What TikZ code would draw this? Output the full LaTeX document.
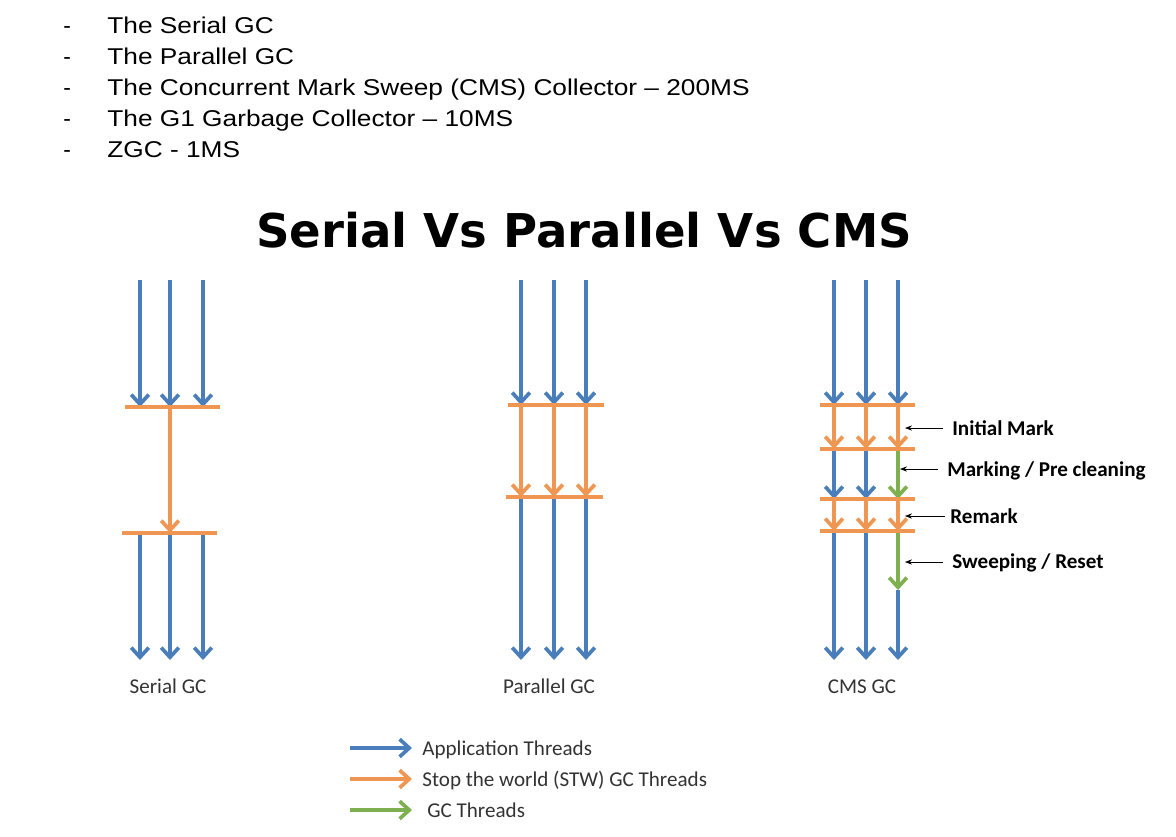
\documentclass[tikz,border=0pt]{standalone}
\usepackage{fontspec}
\setmainfont{Liberation Sans}
\newfontfamily\calfont{Carlito}
\newfontfamily\titlefont{DejaVu Sans}
\usetikzlibrary{arrows.meta}

\definecolor{appblue}{HTML}{4A7EBB}
\definecolor{stworange}{HTML}{EE9652}
\definecolor{gcgreen}{HTML}{7FB04F}

\begin{document}
\begin{tikzpicture}[x=0.02cm,y=-0.02cm,
    >={Straight Barb[length=5.5pt,width=10pt]},
    thread/.style={->,line width=2.1pt},
    app/.style={thread,draw=appblue},
    stw/.style={thread,draw=stworange},
    gct/.style={thread,draw=gcgreen},
    bar/.style={draw=stworange,line width=2.1pt},
    note/.style={-{Stealth[length=4pt,width=3pt]},thin,black},
    item/.style={anchor=base west,inner sep=0pt,font=\fontsize{13}{15}\selectfont},
    gc label/.style={anchor=base,inner sep=0pt,text=black!80,
                     font=\calfont\fontsize{12}{14}\selectfont},
    note text/.style={anchor=base west,inner sep=0pt,
                      font=\calfont\bfseries\fontsize{12}{14}\selectfont}]

  \useasboundingbox (0,0) rectangle (1176,836);

  % list of collectors
  \foreach \txt [count=\i] in {The Serial GC, The Parallel GC,
      The Concurrent Mark Sweep (CMS) Collector -- 200MS,
      The G1 Garbage Collector -- 10MS, ZGC - 1MS} {
    \node[item] (dash\i) at (63,{2+31*\i}) {-};
    \node[item] (item\i) at (107,{2+31*\i}) {\scalebox{1.15}[1]{\txt}};
  }

  \node[anchor=base,inner sep=0pt,font=\titlefont\bfseries\fontsize{26.5}{30}\selectfont]
    (title) at (584,247) {Serial Vs Parallel Vs CMS};

  % serial
  \foreach \x [count=\i] in {140,170,203} {
    \coordinate (sT\i) at (\x,280); \coordinate (sA\i) at (\x,407);
    \coordinate (sB\i) at (\x,533); \coordinate (sE\i) at (\x,660);
    \draw[app] (sT\i) -- (sA\i);
    \draw[app] (sB\i) -- (sE\i);
  }
  \coordinate (sAl) at (125,407); \coordinate (sAr) at (220,407);
  \coordinate (sBl) at (122,533); \coordinate (sBr) at (217,533);
  \draw[bar] (sAl) -- (sAr);
  \draw[bar] (sBl) -- (sBr);
  \draw[stw] (sA2) -- (sB2);
  \node[gc label] (serial) at (168,693) {Serial GC};

  % parallel
  \foreach \x [count=\i] in {521,554,586} {
    \coordinate (pT\i) at (\x,280); \coordinate (pA\i) at (\x,405);
    \coordinate (pB\i) at (\x,497); \coordinate (pE\i) at (\x,660);
    \draw[app] (pT\i) -- (pA\i);
    \draw[stw] (pA\i) -- (pB\i);
    \draw[app] (pB\i) -- (pE\i);
  }
  \coordinate (pAl) at (508,405); \coordinate (pAr) at (604,405);
  \coordinate (pBl) at (506,497); \coordinate (pBr) at (603,497);
  \draw[bar] (pAl) -- (pAr);
  \draw[bar] (pBl) -- (pBr);
  \node[gc label] (parallel) at (549,693) {Parallel GC};

  % cms
  \foreach \x [count=\i] in {834,866,898} {
    \coordinate (cT\i) at (\x,280); \coordinate (cA\i) at (\x,405);
    \coordinate (cB\i) at (\x,449); \coordinate (cC\i) at (\x,499);
    \coordinate (cD\i) at (\x,531); \coordinate (cE\i) at (\x,660);
    \draw[app] (cT\i) -- (cA\i);
    \draw[stw] (cA\i) -- (cB\i);
    \draw[stw] (cC\i) -- (cD\i);
  }
  \foreach \i in {1,2} {
    \draw[app] (cB\i) -- (cC\i);
    \draw[app] (cD\i) -- (cE\i);
  }
  \coordinate (cG3) at (898,590);
  \draw[gct] (cB3) -- (cC3);
  \draw[gct] (cD3) -- (cG3);
  \draw[app] (cG3) -- (cE3);
  \foreach \y [count=\i] in {405,449,499,531} {
    \coordinate (cL\i) at (820,\y); \coordinate (cR\i) at (915,\y);
    \draw[bar] (cL\i) -- (cR\i);
  }
  \node[gc label] (cms) at (862,693) {CMS GC};

  % phases
  \node[note text] (initial) at (952,435) {Initial Mark};
  \node[note text] (marking) at (947,476) {Marking / Pre cleaning};
  \node[note text] (remark) at (950,523) {Remark};
  \node[note text] (sweeping) at (952,568) {Sweeping / Reset};
  \coordinate (initial tail) at (943,428); \coordinate (initial head) at (905,428);
  \coordinate (marking tail) at (938,469); \coordinate (marking head) at (900,469);
  \coordinate (remark tail) at (945,516); \coordinate (remark head) at (905,516);
  \coordinate (sweeping tail) at (943,562); \coordinate (sweeping head) at (905,562);
  \draw[note] (initial tail) -- (initial head);
  \draw[note] (marking tail) -- (marking head);
  \draw[note] (remark tail) -- (remark head);
  \draw[note] (sweeping tail) -- (sweeping head);

  % legend
  \foreach \c/\y/\tx/\txt [count=\i] in {app/748/422/Application Threads,
      stw/779/422/Stop the world (STW) GC Threads, gct/810/427/GC Threads} {
    \coordinate (legA\i) at (350,\y); \coordinate (legB\i) at (412,\y);
    \draw[\c] (legA\i) -- (legB\i);
    \node[gc label,anchor=base west] (leg\i) at (\tx,{\y+7}) {\txt};
  }
\end{tikzpicture}
\end{document}
